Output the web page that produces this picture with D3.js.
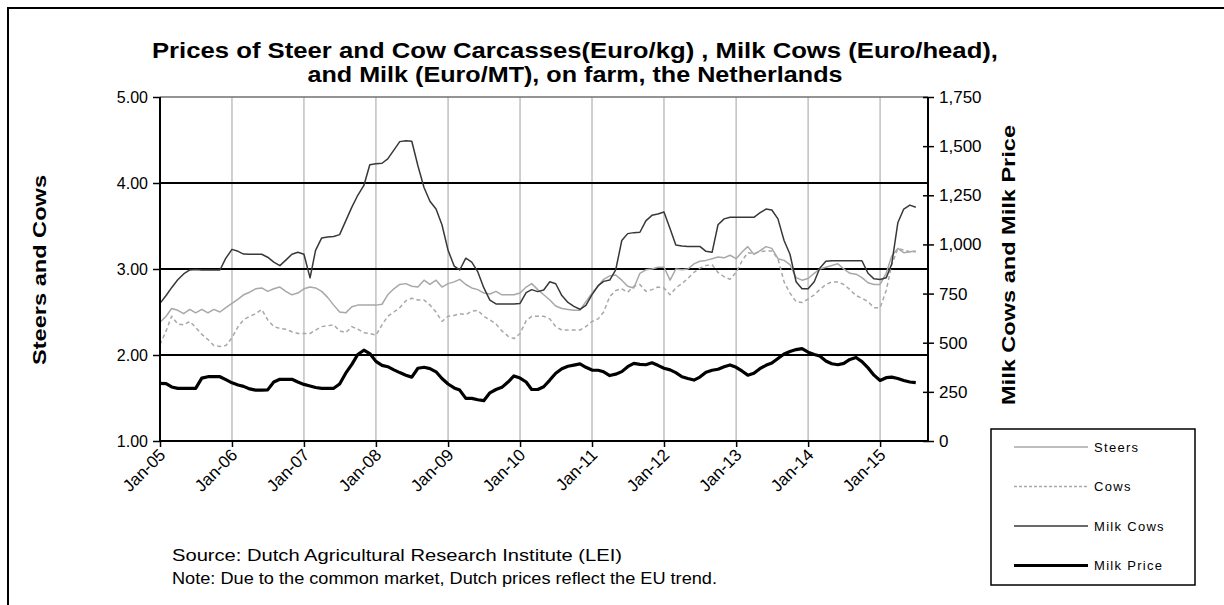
<!DOCTYPE html>
<html>
<head>
<meta charset="utf-8">
<script src="https://cdn.jsdelivr.net/npm/d3@7"></script>
<style>
    body { margin: 0; background: #fff; }
    svg text { font-family: "Liberation Sans", Arial, sans-serif; fill: #000; }
</style>
</head>
<body>
<svg id="chart" width="1224" height="605"></svg>
<script>
// monthly, Jan-05 .. Jul-15
var months = d3.timeMonth.range(new Date(2005, 0, 1), new Date(2015, 7, 1));

// Euro/kg carcass
var steers = [
    2.38, 2.45, 2.54, 2.52, 2.48, 2.53, 2.49, 2.53, 2.49, 2.53, 2.50, 2.55,
    2.60, 2.65, 2.70, 2.73, 2.77, 2.78, 2.74, 2.77, 2.79, 2.74, 2.70, 2.72,
    2.77, 2.79, 2.78, 2.74, 2.67, 2.58, 2.50, 2.49, 2.56, 2.58, 2.58, 2.58,
    2.58, 2.59, 2.70, 2.77, 2.82, 2.83, 2.80, 2.79, 2.87, 2.82, 2.87, 2.79,
    2.83, 2.85, 2.88, 2.82, 2.78, 2.76, 2.72, 2.71, 2.74, 2.70, 2.70, 2.70,
    2.72, 2.79, 2.83, 2.76, 2.70, 2.64, 2.57, 2.54, 2.53, 2.52, 2.52, 2.62,
    2.72, 2.80, 2.88, 2.92, 2.93, 2.87, 2.80, 2.78, 2.95, 2.99, 3.00, 3.02,
    3.02, 2.87, 3.00, 2.99, 3.00, 3.06, 3.09, 3.10, 3.12, 3.14, 3.13, 3.16,
    3.12, 3.20, 3.26, 3.17, 3.21, 3.26, 3.24, 3.12, 3.10, 3.05, 2.90, 2.87,
    2.89, 2.95, 3.00, 3.02, 3.04, 3.06, 3.00, 2.95, 2.94, 2.90, 2.84, 2.82,
    2.82, 2.95, 3.15, 3.24, 3.19, 3.20, 3.21
];

var cows = [
    2.12, 2.28, 2.45, 2.36, 2.35, 2.39, 2.32, 2.24, 2.18, 2.11, 2.10, 2.11,
    2.20, 2.33, 2.41, 2.45, 2.48, 2.53, 2.41, 2.33, 2.31, 2.30, 2.27, 2.25,
    2.25, 2.25, 2.29, 2.33, 2.34, 2.35, 2.28, 2.26, 2.33, 2.30, 2.26, 2.25,
    2.23, 2.35, 2.45, 2.50, 2.55, 2.63, 2.66, 2.64, 2.64, 2.58, 2.50, 2.39,
    2.45, 2.46, 2.48, 2.47, 2.51, 2.52, 2.45, 2.41, 2.36, 2.28, 2.22, 2.19,
    2.25, 2.40, 2.45, 2.45, 2.45, 2.42, 2.33, 2.29, 2.29, 2.29, 2.29, 2.33,
    2.39, 2.42, 2.50, 2.68, 2.75, 2.77, 2.73, 2.80, 2.82, 2.74, 2.76, 2.79,
    2.78, 2.70, 2.78, 2.83, 2.89, 2.96, 3.01, 3.04, 3.05, 2.96, 2.91, 2.88,
    2.96, 3.10, 3.19, 3.18, 3.20, 3.21, 3.21, 3.12, 2.85, 2.72, 2.62, 2.61,
    2.65, 2.70, 2.76, 2.82, 2.85, 2.85, 2.82, 2.76, 2.69, 2.66, 2.62, 2.55,
    2.55, 2.75, 3.05, 3.24, 3.22, 3.20, 3.20
];

// Euro/head
var milkCows = [
    700, 740, 780, 820, 850, 870, 872, 870, 870, 870, 870, 930,
    975, 965, 951, 950, 950, 950, 935, 910, 892, 920, 950, 960,
    950, 830, 970, 1033, 1038, 1040, 1050, 1120, 1190, 1250, 1300, 1405,
    1410, 1413, 1435, 1480, 1523, 1528, 1525, 1400, 1290, 1220, 1180, 1100,
    970, 890, 870, 930, 910, 860, 780, 717, 697, 697, 697, 697,
    700, 755, 770, 760, 768, 810, 800, 740, 705, 685, 670, 690,
    745, 790, 812, 819, 870, 1020, 1055, 1060, 1062, 1120, 1148, 1155,
    1165, 1080, 997, 992, 990, 990, 990, 965, 960, 1100, 1130, 1138,
    1138, 1138, 1138, 1138, 1160, 1180, 1175, 1130, 1020, 950, 810, 775,
    775, 810, 879, 915, 917, 917, 917, 917, 917, 917, 853, 825,
    822, 830, 900, 1110, 1180, 1200, 1189
];

// Euro/MT
var milkPrice = [
    293, 292, 275, 268, 268, 268, 268, 320, 327, 327, 327, 312,
    296, 285, 278, 265, 259, 259, 260, 300, 314, 314, 314, 300,
    288, 280, 272, 268, 268, 268, 290, 345, 390, 440, 462, 445,
    405, 385, 378, 362, 348, 335, 325, 370, 375, 368, 352, 318,
    290, 270, 259, 217, 217, 210, 205, 245, 262, 273, 300, 331,
    320, 300, 262, 262, 276, 310, 345, 368, 380, 386, 392, 375,
    361, 360, 352, 333, 340, 353, 378, 395, 390, 388, 398, 385,
    370, 362, 348, 327, 318, 310, 325, 350, 360, 365, 378, 387,
    375, 355, 335, 345, 368, 385, 397, 420, 443, 455, 465, 470,
    452, 440, 432, 407, 393, 388, 395, 415, 425, 404, 372, 335,
    308, 322, 325, 318, 308, 300, 297
];

var leftTicks = [1, 2, 3, 4, 5];
var rightTicks = [0, 250, 500, 750, 1000, 1250, 1500, 1750];
var yearTicks = d3.timeYear.range(new Date(2005, 0, 1), new Date(2015, 1, 1));

var titleLines = [
    "Prices of Steer and Cow Carcasses(Euro/kg) , Milk Cows (Euro/head),",
    "and Milk (Euro/MT), on farm, the Netherlands"
];
var notes = [
    "Source: Dutch Agricultural Research Institute (LEI)",
    "Note: Due to the common  market, Dutch prices reflect the EU  trend."
];

var series = [
    { name: "Steers", values: steers, axis: "left", color: "#a8a8a8", width: 1.5, dash: null },
    { name: "Cows", values: cows, axis: "left", color: "#a8a8a8", width: 1.5, dash: "4,3" },
    { name: "Milk Cows", values: milkCows, axis: "right", color: "#383838", width: 1.5, dash: null },
    { name: "Milk Price", values: milkPrice, axis: "right", color: "#000", width: 3.2, dash: null }
];

(function () {
    var svg = d3.select("#chart"),
        plotLeft = 160, plotRight = 928, plotTop = 97, plotBottom = 441;

    var x = d3.scaleTime().domain([new Date(2005, 0, 1), new Date(2015, 8, 1)]).range([plotLeft, plotRight]),
        yLeft = d3.scaleLinear().domain([1, 5]).range([plotBottom, plotTop]),
        yRight = d3.scaleLinear().domain([0, 1750]).range([plotBottom, plotTop]);

    // outer frame (only top and left edges show)
    svg.append("path").attr("d", "M8,605V8H1224").attr("fill", "none").attr("stroke", "#000").attr("stroke-width", 2);

    // title
    var titleWidths = [846, 535];
    svg.append("g").selectAll("text").data(titleLines).enter().append("text")
        .attr("x", 575).attr("y", function (d, i) { return 58 + i * 24; })
        .attr("text-anchor", "middle")
        .attr("textLength", function (d, i) { return titleWidths[i]; })
        .attr("lengthAdjust", "spacingAndGlyphs")
        .style("font-size", "22px").style("font-weight", "bold")
        .text(function (d) { return d; });

    // grid
    svg.append("g").selectAll("line").data(yearTicks.slice(1)).enter().append("line")
        .attr("x1", function (d) { return x(d); }).attr("x2", function (d) { return x(d); })
        .attr("y1", plotTop).attr("y2", plotBottom)
        .attr("stroke", "#c0c0c0").attr("stroke-width", 1.5);

    svg.append("line").attr("x1", plotLeft).attr("x2", plotRight).attr("y1", yLeft(5)).attr("y2", yLeft(5))
        .attr("stroke", "#707070").attr("stroke-width", 1.5);

    svg.append("g").selectAll("line").data([2, 3, 4]).enter().append("line")
        .attr("x1", plotLeft).attr("x2", plotRight)
        .attr("y1", function (d) { return yLeft(d); }).attr("y2", function (d) { return yLeft(d); })
        .attr("stroke", "#000").attr("stroke-width", 1.8);

    // series
    var lineFor = function lineFor(s) {
        var scale = s.axis === "left" ? yLeft : yRight;
        return d3.line()
            .x(function (d, i) { return x(months[i]); })
            .y(function (d) { return scale(d); });
    };

    series.forEach(function (s) {
        svg.append("path").datum(s.values)
            .attr("d", lineFor(s))
            .attr("fill", "none")
            .attr("stroke", s.color)
            .attr("stroke-width", s.width)
            .attr("stroke-dasharray", s.dash)
            .attr("stroke-linejoin", "round");
    });

    // axes
    var leftAxis = svg.append("g").attr("transform", "translate(" + plotLeft + ",0)")
        .call(d3.axisLeft(yLeft).tickValues(leftTicks).tickFormat(d3.format(".2f")).tickSize(7).tickPadding(5));
    var rightAxis = svg.append("g").attr("transform", "translate(" + plotRight + ",0)")
        .call(d3.axisRight(yRight).tickValues(rightTicks).tickFormat(d3.format(",")).tickSize(6).tickPadding(5));
    rightAxis.selectAll(".tick line").attr("x1", -5);
    var bottomAxis = svg.append("g").attr("transform", "translate(0," + plotBottom + ")")
        .call(d3.axisBottom(x).tickValues(yearTicks).tickFormat(d3.timeFormat("%b-%y")).tickSize(6));

    [leftAxis, rightAxis, bottomAxis].forEach(function (a) {
        a.select(".domain").attr("stroke-width", 2);
        a.selectAll(".tick line").attr("stroke-width", 1.5);
        a.selectAll("text").style("font-size", "16px");
        a.attr("font-family", null);
    });
    bottomAxis.select(".domain").attr("d", "M" + plotLeft + ",0H" + plotRight);
    leftAxis.select(".domain").attr("d", "M0," + plotTop + "V" + plotBottom);
    rightAxis.select(".domain").attr("d", "M0," + plotTop + "V" + plotBottom);
    rightAxis.selectAll("text").style("font-size", "17px");

    bottomAxis.selectAll(".tick text")
        .attr("text-anchor", "end")
        .attr("dy", null)
        .attr("y", 0).attr("x", 0)
        .attr("transform", "translate(6,15) rotate(-45)")
        .style("font-size", "17px");

    // axis titles
    svg.append("text")
        .attr("transform", "translate(46,270) rotate(-90)")
        .attr("text-anchor", "middle")
        .attr("textLength", 190).attr("lengthAdjust", "spacingAndGlyphs")
        .style("font-size", "18px").style("font-weight", "bold")
        .text("Steers and Cows");
    svg.append("text")
        .attr("transform", "translate(1015,265) rotate(-90)")
        .attr("text-anchor", "middle")
        .attr("textLength", 280).attr("lengthAdjust", "spacingAndGlyphs")
        .style("font-size", "18px").style("font-weight", "bold")
        .text("Milk Cows and Milk Price");

    // source / note
    var noteWidths = [450, 545];
    svg.append("g").selectAll("text").data(notes).enter().append("text")
        .attr("x", 172).attr("y", function (d, i) { return 561 + i * 23; })
        .attr("textLength", function (d, i) { return noteWidths[i]; })
        .attr("lengthAdjust", "spacingAndGlyphs")
        .style("font-size", "17px")
        .text(function (d) { return d; });

    // legend
    var legend = svg.append("g").attr("transform", "translate(991,429)");
    legend.append("rect").attr("width", 204).attr("height", 156)
        .attr("fill", "#fff").attr("stroke", "#000").attr("stroke-width", 1.5);
    var item = legend.selectAll("g.item").data(series).enter().append("g")
        .attr("class", "item")
        .attr("transform", function (d, i) { return "translate(0," + (18 + i * 39.5) + ")"; });
    item.append("line").attr("x1", 23).attr("x2", 97)
        .attr("stroke", function (d) { return d.color; })
        .attr("stroke-width", function (d) { return d.width; })
        .attr("stroke-dasharray", function (d) { return d.dash ? "3,2" : null; });
    item.append("text").attr("x", 103).attr("dy", "0.35em")
        .style("font-size", "13px").style("letter-spacing", "1.3px")
        .text(function (d) { return d.name; });
})();
</script>
</body>
</html>
